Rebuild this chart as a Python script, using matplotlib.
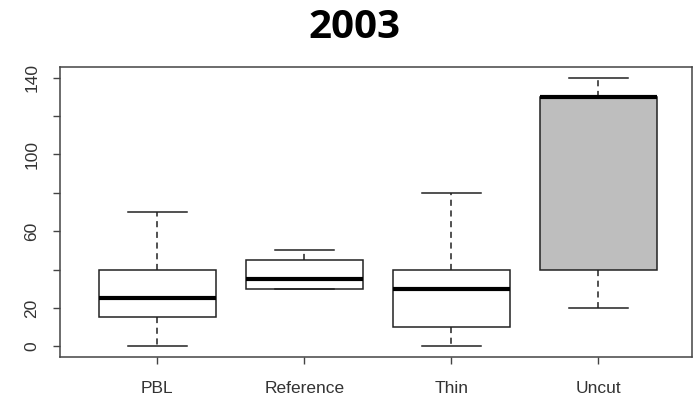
import matplotlib
matplotlib.use("Agg")
import matplotlib.pyplot as plt

groups = ["PBL", "Reference", "Thin", "Uncut"]
whislo = [0, 30, 0, 20]
q1 = [15, 30, 10, 40]
med = [25, 35, 30, 130]
q3 = [40, 45, 40, 130]
whishi = [70, 50, 80, 140]
fills = ["white", "white", "white", "#BEBEBE"]
yticks = [0, 20, 40, 60, 80, 100, 120, 140]
ytick_labels = ["0", "20", "", "60", "", "100", "", "140"]
title = "2003"

plt.rcParams["font.family"] = ["Liberation Sans", "DejaVu Sans"]

fig = plt.figure(figsize=(6.93, 3.99), dpi=100)
ax = fig.add_axes([60/693, 1 - 357/399, (692 - 60)/693, (357 - 67)/399])

stats = []
for i, g in enumerate(groups):
    stats.append(dict(label=g, whislo=whislo[i], q1=q1[i], med=med[i],
                      q3=q3[i], whishi=whishi[i], fliers=[]))

positions = list(range(1, len(groups) + 1))
bp = ax.bxp(stats, positions=positions, widths=0.8, patch_artist=True,
            showfliers=False,
            boxprops=dict(edgecolor="#222222", linewidth=1.1),
            medianprops=dict(color="black", linewidth=3.0, solid_capstyle="butt"),
            whiskerprops=dict(color="#222222", linewidth=1.1, linestyle=(0, (4, 3))),
            capprops=dict(color="#222222", linewidth=1.1),
            capwidths=0.4)
for patch, c in zip(bp["boxes"], fills):
    patch.set_facecolor(c)

ax.set_xlim(0.338, 4.637)
ax.set_ylim(-5.6, 145.6)
ax.set_yticks(yticks)
ax.set_yticklabels(ytick_labels, rotation=90, va="center", fontsize=12.5, color="#333333")
ax.set_xticks(positions)
ax.set_xticklabels(groups, fontsize=12.5, color="#333333")
ax.tick_params(axis="both", direction="out", length=5, width=1, color="#444444")
ax.tick_params(axis="y", pad=10)
ax.tick_params(axis="x", pad=12)
for s in ax.spines.values():
    s.set_color("#444444")
    s.set_linewidth(1.1)

fig.text(354/693, 1 - 28/399, title, ha="center", va="center",
         fontsize=29, fontweight="bold", family=["Open Sans", "DejaVu Sans"])

fig.savefig("out.png", dpi=100)
